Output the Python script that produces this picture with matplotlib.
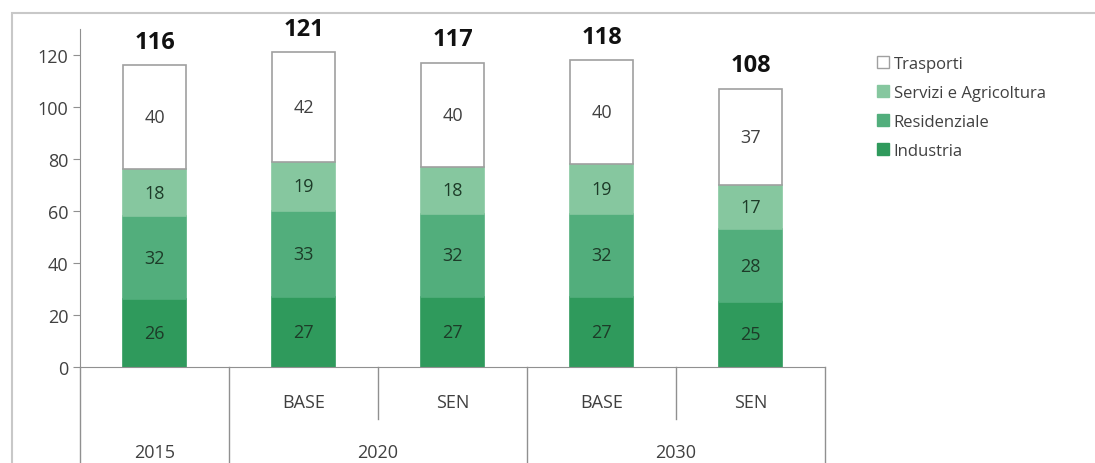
import numpy as np
import matplotlib.pyplot as plt
from matplotlib.patches import Rectangle, Patch

plt.rcParams['font.family'] = ['Open Sans', 'DejaVu Sans']

scenari = ["", "BASE", "SEN", "BASE", "SEN"]
anni = ["2015", "2020", "2030"]
anni_span = [(0, 0), (1, 2), (3, 4)]
industria = [26, 27, 27, 27, 25]
residenziale = [32, 33, 32, 32, 28]
servizi = [18, 19, 18, 19, 17]
trasporti = [40, 42, 40, 40, 37]
totali = [116, 121, 117, 118, 108]

serie = [
    ("Industria", industria, "#2f9a5c", "#1d3b28"),
    ("Residenziale", residenziale, "#52ae7c", "#1d3b28"),
    ("Servizi e Agricoltura", servizi, "#86c79f", "#1d3b28"),
    ("Trasporti", trasporti, "white", "#404040"),
]

fig = plt.figure(figsize=(10.95, 4.64), dpi=100)
ax = fig.add_axes([80 / 1095, 1 - 368 / 464, 745 / 1095, 338 / 464])

x = np.arange(len(totali))
bottom = np.zeros(len(totali))
for nome, vals, col, tcol in serie:
    vals = np.array(vals)
    ec = "#a0a0a0" if col == "white" else col
    ax.bar(x, vals, 0.42, bottom=bottom, color=col, edgecolor=ec, linewidth=1.2, label=nome)
    for xi, b, v in zip(x, bottom, vals):
        ax.text(xi, b + v / 2, str(v), ha="center", va="center", fontsize=13, color=tcol)
    bottom += vals

for xi, b, t in zip(x, bottom, totali):
    ax.text(xi, b + 9, str(t), ha="center", va="center", fontsize=17, fontweight="bold", color="#111111")

ax.set_xlim(-0.5, 4.5)
ax.set_ylim(0, 130)
ax.set_yticks(range(0, 121, 20))
ax.tick_params(axis="y", labelsize=13, labelcolor="#404040", color="#909090", length=5)
ax.set_xticks([])
for s in ["top", "right"]:
    ax.spines[s].set_visible(False)
ax.spines["left"].set_color("#909090")
ax.spines["bottom"].set_color("#909090")

# category axis with two levels
tr = ax.get_xaxis_transform()
for i in range(len(scenari) + 1):
    xs = i - 0.5
    long = i in (0, 1, 3, 5)
    y_end = -0.284 if long else -0.155
    ax.plot([xs, xs], [0, y_end], color="#909090", lw=1, transform=tr, clip_on=False)
for xi, s in zip(x, scenari):
    if s:
        ax.text(xi, -0.105, s, transform=tr, ha="center", va="center", fontsize=13, color="#404040")
for a, (i0, i1) in zip(anni, anni_span):
    ax.text((i0 + i1) / 2, -0.25, a, transform=tr, ha="center", va="center", fontsize=13, color="#404040")

handles = [Patch(facecolor=c, edgecolor=("#a0a0a0" if c == "white" else c), label=n)
           for n, _, c, _ in serie[::-1]]
fig.legend(handles=handles, loc="upper left", bbox_to_anchor=(862 / 1095, 1 - 42 / 464),
           frameon=False, fontsize=12, handlelength=0.7, handleheight=0.7,
           handletextpad=0.3, labelspacing=0.78, labelcolor="#404040")

fig.patches.append(Rectangle((12 / 1095, -0.1), 1.2, 1 - 14 / 464 + 0.1, transform=fig.transFigure,
                             fill=False, edgecolor="#c8c8c8", lw=1.5))

fig.savefig("out.png", dpi=100)
